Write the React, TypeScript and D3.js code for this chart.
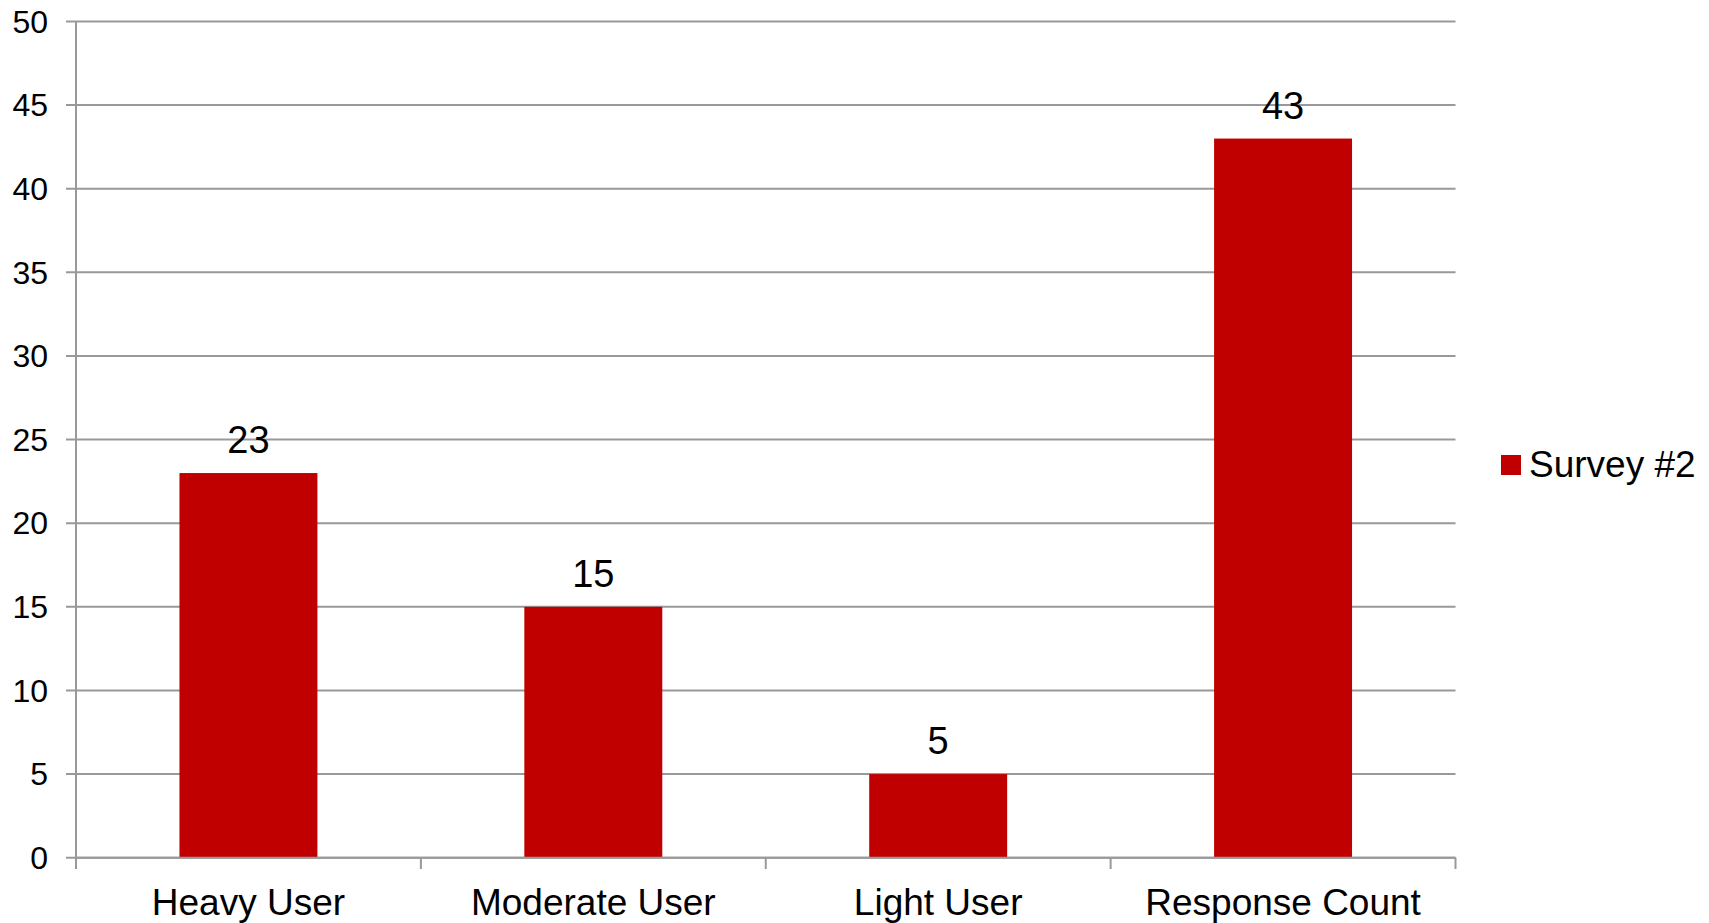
import React from "react";
import * as d3 from "d3";

const categories = ["Heavy User", "Moderate User", "Light User", "Response Count"];
const values = [23, 15, 5, 43];
const yTicks = [0, 5, 10, 15, 20, 25, 30, 35, 40, 45, 50];
const seriesName = "Survey #2";

const W = 1709;
const H = 923;
const left = 76;
const right = 1455.5;
const top = 21.5;
const bottom = 857.7;
const BAR = "#C00000";
const GRID = "#999999";
const FONT = "'Liberation Sans', Arial, sans-serif";

export default function App() {
  const x = d3.scaleBand<string>().domain(categories).range([left, right]).paddingInner(0).paddingOuter(0);
  const y = d3.scaleLinear().domain([0, 50]).range([bottom, top]);
  const bw = x.bandwidth() * 0.4;
  const edges = categories.map((c) => x(c)!).concat([right]);

  return (
    <svg width={W} height={H} style={{ position: "fixed", left: 0, top: 0, background: "#fff" }} fontFamily={FONT}>
      {yTicks.map((t) => (
        <g key={t}>
          <line x1={66} x2={right} y1={y(t)} y2={y(t)} stroke={GRID} strokeWidth={2} />
          <text x={48} y={y(t)} dy="0.35em" textAnchor="end" fontSize={32} fill="#000">
            {t}
          </text>
        </g>
      ))}
      <line x1={left} x2={left} y1={top} y2={869} stroke={GRID} strokeWidth={2} />
      {edges.map((e, i) => (
        <line key={i} x1={e} x2={e} y1={bottom} y2={869} stroke={GRID} strokeWidth={2} />
      ))}
      {categories.map((c, i) => {
        const cx = x(c)! + x.bandwidth() / 2;
        return (
          <g key={c}>
            <rect x={cx - bw / 2} y={y(values[i])} width={bw} height={bottom - y(values[i])} fill={BAR} />
            <text x={cx} y={y(values[i]) - 20} textAnchor="middle" fontSize={38} fill="#000">
              {values[i]}
            </text>
            <text x={cx} y={915} textAnchor="middle" fontSize={37} fill="#000">
              {c}
            </text>
          </g>
        );
      })}
      <line x1={left} x2={right} y1={bottom} y2={bottom} stroke={GRID} strokeWidth={2} />
      <rect x={1501} y={455} width={20} height={20} fill={BAR} />
      <text x={1529} y={477} fontSize={37} fill="#000">
        {seriesName}
      </text>
    </svg>
  );
}
